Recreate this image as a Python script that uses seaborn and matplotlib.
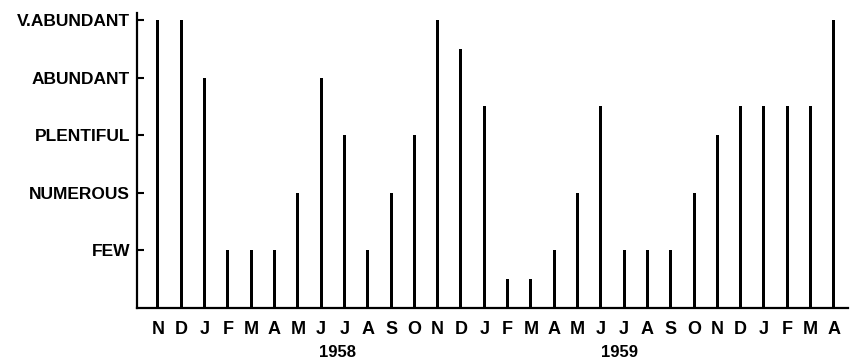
import matplotlib
matplotlib.use("Agg")
import matplotlib.pyplot as plt
import numpy as np
import pandas as pd
import seaborn as sns

# Monthly abundance, Nov 1957 - Apr 1960 (0 = absent, 1 = few ... 5 = very abundant)
months = ["N", "D", "J", "F", "M", "A", "M", "J", "J", "A", "S", "O",
          "N", "D", "J", "F", "M", "A", "M", "J", "J", "A", "S", "O",
          "N", "D", "J", "F", "M", "A"]
abundance = [5, 5, 4, 1, 1, 1, 2, 4, 3, 1, 2, 3,
             5, 4.5, 3.5, 0.5, 0.5, 1, 2, 3.5, 1, 1, 1, 2,
             3, 3.5, 3.5, 3.5, 3.5, 5]
level_values = [1, 2, 3, 4, 5]
level_labels = ["FEW", "NUMEROUS", "PLENTIFUL", "ABUNDANT", "V.ABUNDANT"]
years = ["1958", "1959"]
year_positions = [7.7, 19.8]

df = pd.DataFrame({"pos": np.arange(len(months)), "abundance": abundance})

sns.set_style("ticks")
plt.rcParams["font.family"] = ["Liberation Sans", "DejaVu Sans"]
plt.rcParams["text.color"] = "black"
plt.rcParams["xtick.color"] = "black"
plt.rcParams["ytick.color"] = "black"

fig = plt.figure(figsize=(8.53, 3.61), dpi=100)
ax = fig.add_axes([0.1606, 0.1468, 0.994 - 0.1606, 0.964 - 0.1468])

sns.barplot(data=df, x="pos", y="abundance", native_scale=True,
            width=0.13, color="black", saturation=1, linewidth=0,
            errorbar=None, ax=ax)

ax.set_xlim(-0.9, 29.6)
ax.set_ylim(0, 5.12)

ax.set_xticks(df["pos"])
ax.set_xticklabels(months, fontsize=13, fontweight="bold")
ax.tick_params(axis="x", length=0, pad=9)

ax.set_yticks(level_values)
ax.set_yticklabels(level_labels, fontsize=12.5, fontweight="bold")
ax.tick_params(axis="y", direction="in", length=5, width=1.5, pad=5)

for lab, xp in zip(years, year_positions):
    ax.text(xp, -0.78, lab, ha="center", va="center", fontsize=12,
            fontweight="bold", color="black", transform=ax.transData,
            clip_on=False)

sns.despine(ax=ax)
for side in ("left", "bottom"):
    ax.spines[side].set_linewidth(1.6)
    ax.spines[side].set_color("black")

ax.set_xlabel("")
ax.set_ylabel("")

fig.savefig("out.png", dpi=100)
